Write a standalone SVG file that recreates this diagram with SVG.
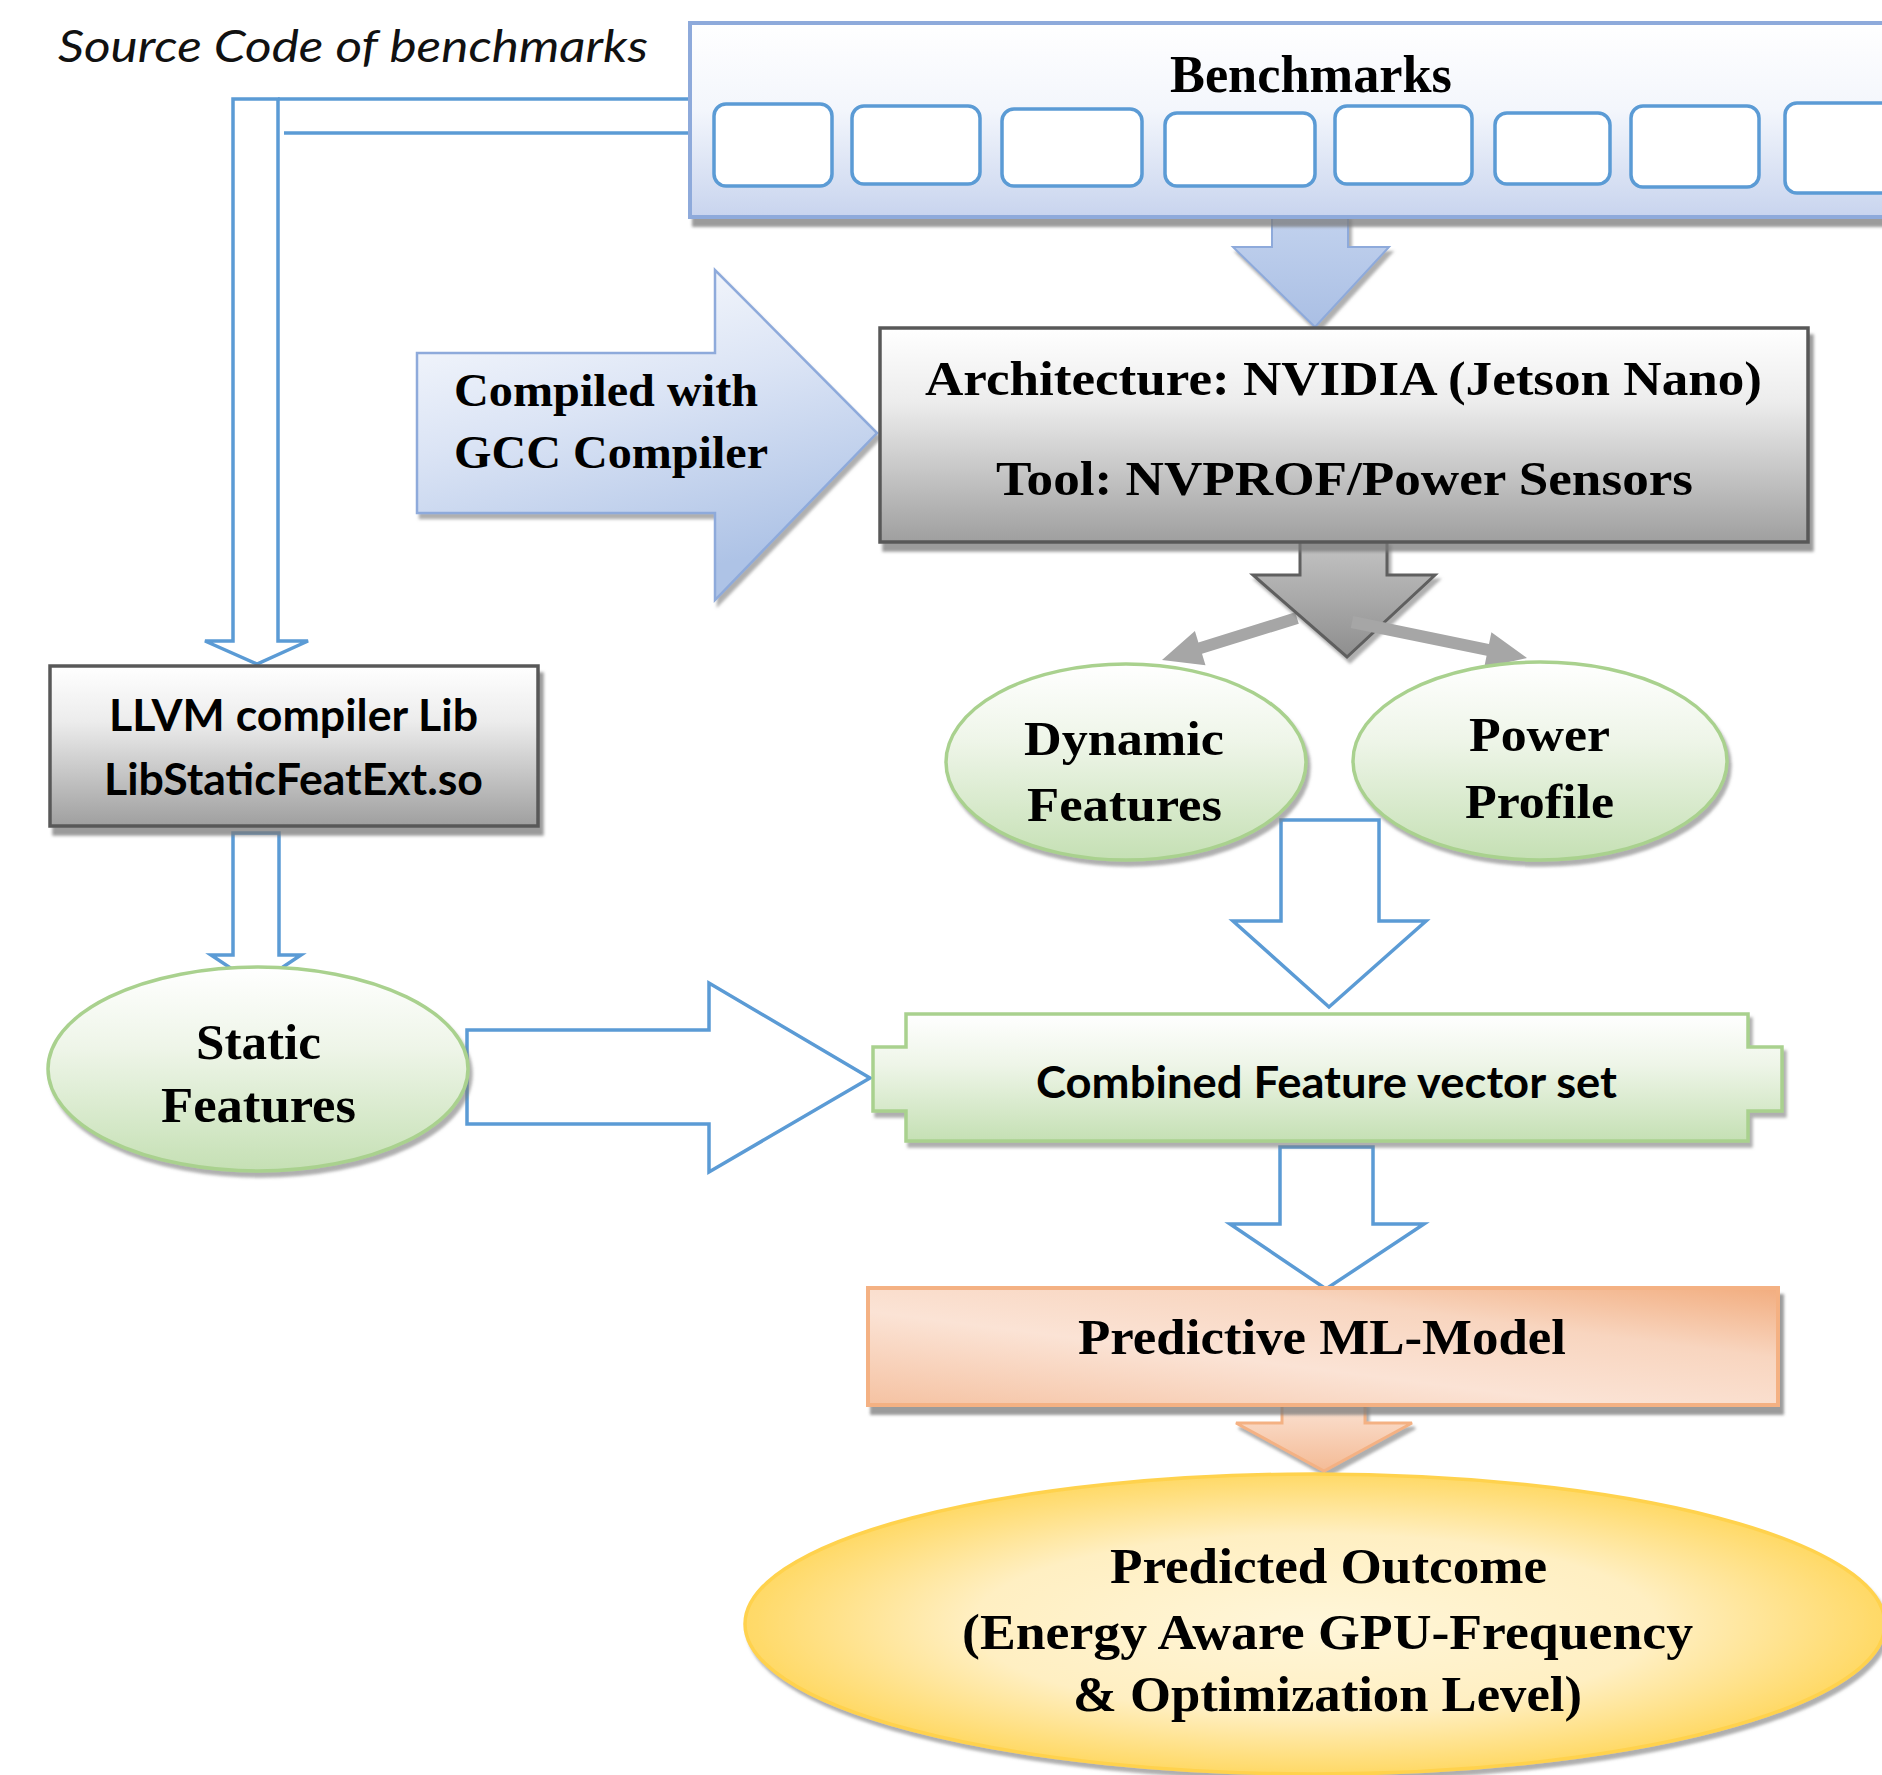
<svg xmlns="http://www.w3.org/2000/svg" width="1882" height="1775" viewBox="0 0 1882 1775">
<style>
.serif{font-family:"Liberation Serif","Times New Roman",serif;font-weight:bold;fill:#000}
.sans{font-family:Lato,"Open Sans","Liberation Sans",sans-serif;font-weight:bold;fill:#000}
.outline{fill:#fff;stroke:#5b9bd5;stroke-width:3.5;stroke-linejoin:miter}
.line{fill:none;stroke:#5b9bd5;stroke-width:3.5}
.bbox{fill:#fff;stroke:#5b9bd5;stroke-width:3.5}
.gbox{fill:url(#gGray);stroke:#595959;stroke-width:3.5}
.green{fill:url(#gGreen);stroke:#a9d18e;stroke-width:3.5}
</style>
<defs>
<linearGradient id="gBlue" x1="0" y1="0" x2="0" y2="1">
<stop offset="0" stop-color="#ffffff"/><stop offset="0.45" stop-color="#f3f6fc"/><stop offset="1" stop-color="#c8d4ee"/>
</linearGradient>
<linearGradient id="gBlueArrow" x1="0" y1="0" x2="0.35" y2="1">
<stop offset="0" stop-color="#ffffff"/><stop offset="0.5" stop-color="#dbe4f5"/><stop offset="1" stop-color="#aec3e6"/>
</linearGradient>
<linearGradient id="gBlueDown" x1="0" y1="0" x2="0" y2="1">
<stop offset="0" stop-color="#c2d2ee"/><stop offset="1" stop-color="#aabfe4"/>
</linearGradient>
<linearGradient id="gGray" x1="0" y1="0" x2="0" y2="1">
<stop offset="0" stop-color="#ffffff"/><stop offset="0.35" stop-color="#ececec"/><stop offset="1" stop-color="#9f9f9f"/>
</linearGradient>
<linearGradient id="gGrayArrow" x1="0" y1="0" x2="0" y2="1">
<stop offset="0" stop-color="#c4c4c4"/><stop offset="1" stop-color="#8e8e8e"/>
</linearGradient>
<linearGradient id="gGreen" x1="0" y1="0" x2="0" y2="1">
<stop offset="0" stop-color="#ffffff"/><stop offset="0.4" stop-color="#eef5e8"/><stop offset="1" stop-color="#c5e0b4"/>
</linearGradient>
<linearGradient id="gOrange" x1="1" y1="0" x2="0" y2="1">
<stop offset="0" stop-color="#f2ad7f"/><stop offset="0.3" stop-color="#f8d5bf"/><stop offset="0.6" stop-color="#fbe3d5"/><stop offset="1" stop-color="#f5c2a2"/>
</linearGradient>
<linearGradient id="gOrangeArrow" x1="0" y1="0" x2="0" y2="1">
<stop offset="0" stop-color="#fbe2d3"/><stop offset="1" stop-color="#f4bb96"/>
</linearGradient>
<radialGradient id="gYellow" cx="0.5" cy="0.5" r="0.5">
<stop offset="0" stop-color="#fff6d9"/><stop offset="0.6" stop-color="#ffefc2"/><stop offset="1" stop-color="#ffd966"/>
</radialGradient>
<filter id="sh" x="-10%" y="-10%" width="130%" height="130%">
<feDropShadow dx="4" dy="8" stdDeviation="1.5" flood-color="#7a7a7a" flood-opacity="0.75"/>
</filter>
<filter id="shs" x="-10%" y="-10%" width="130%" height="130%">
<feDropShadow dx="3" dy="5" stdDeviation="1.5" flood-color="#7a7a7a" flood-opacity="0.6"/>
</filter>
</defs>

<g id="source-label">
<text x="58" y="62" font-family="Lato,'Open Sans','Liberation Sans',sans-serif" font-style="italic" font-size="44" fill="#111" textLength="590" lengthAdjust="spacingAndGlyphs">Source Code of benchmarks</text>
</g>

<g id="connectors">
<!-- source code bent arrow to LLVM -->
<path class="outline" d="M233,99 H278 V641 H308 L257,664 L205,641 H233 Z"/>
<line class="line" x1="278" y1="99" x2="692" y2="99"/>
<line class="line" x1="284" y1="133" x2="692" y2="133"/>
<!-- benchmarks down arrow -->
<path d="M1272,215 H1348 V247 H1389 L1315,327 L1233,247 H1272 Z" fill="url(#gBlueDown)" stroke="#8eaadb" stroke-width="2" filter="url(#shs)"/>
<!-- compiled with GCC arrow -->
<path d="M417,353 H715 V270 L877,433 L715,600 V513 H417 Z" fill="url(#gBlueArrow)" stroke="#8eaadb" stroke-width="2.5" filter="url(#shs)"/>
<!-- gray split arrows -->
<polygon points="1295.2,612.3 1198.4,642.4 1194.9,630.9 1162,660 1205.5,665.3 1202.0,653.8 1298.8,623.7" fill="#a6a6a6"/>
<path d="M1300,541 H1387 V575 H1435 L1347,657 L1253,575 H1300 Z" fill="url(#gGrayArrow)" stroke="#5f5f5f" stroke-width="3" filter="url(#shs)"/>
<polygon points="1353.2,616.1 1489.0,644.0 1491.4,632.3 1527,658 1484.2,667.5 1486.6,655.8 1350.8,627.9" fill="#a6a6a6"/>
<!-- LLVM to static -->
<path class="outline" d="M233,833 H279 V955 H301 L256,985 L211,955 H233 Z"/>
<!-- static to combined -->
<path class="outline" d="M467,1030 H709 V983 L870,1078 L709,1172 V1124 H467 Z"/>
<!-- dynamic/power to combined -->
<path class="outline" d="M1281,820 H1379 V921 H1426 L1329,1007 L1233,921 H1281 Z"/>
<!-- combined to predictive -->
<path class="outline" d="M1280,1147 H1373 V1224 H1424 L1326,1289 L1230,1224 H1280 Z"/>
<!-- predictive to outcome -->
<path d="M1282,1403 H1365 V1423 H1412 L1324,1471 L1236,1423 H1282 Z" fill="url(#gOrangeArrow)" stroke="#f4b183" stroke-width="3" filter="url(#shs)"/>
</g>

<g id="benchmarks">
<rect x="690" y="23" width="1260" height="194" fill="url(#gBlue)" stroke="#8eaadb" stroke-width="4" filter="url(#sh)"/>
<text class="serif" x="1311" y="92" font-size="52" text-anchor="middle" textLength="282" lengthAdjust="spacingAndGlyphs">Benchmarks</text>
<rect class="bbox" x="714" y="104" width="118" height="82" rx="12"/>
<rect class="bbox" x="852" y="106" width="128" height="78" rx="12"/>
<rect class="bbox" x="1002" y="109" width="140" height="77" rx="12"/>
<rect class="bbox" x="1165" y="113" width="150" height="73" rx="12"/>
<rect class="bbox" x="1335" y="106" width="137" height="78" rx="12"/>
<rect class="bbox" x="1495" y="113" width="115" height="71" rx="12"/>
<rect class="bbox" x="1631" y="106" width="128" height="81" rx="12"/>
<rect class="bbox" x="1785" y="103" width="160" height="90" rx="12"/>
</g>

<g id="compiled-label">
<text class="serif" x="454" y="406" font-size="46" textLength="304" lengthAdjust="spacingAndGlyphs">Compiled with</text>
<text class="serif" x="454" y="468" font-size="46" textLength="314" lengthAdjust="spacingAndGlyphs">GCC Compiler</text>
</g>

<g id="architecture">
<rect class="gbox" x="880" y="328" width="928" height="214" filter="url(#sh)"/>
<text class="serif" x="925" y="395" font-size="48" textLength="837" lengthAdjust="spacingAndGlyphs">Architecture: NVIDIA (Jetson Nano)</text>
<text class="serif" x="996" y="495" font-size="48" textLength="697" lengthAdjust="spacingAndGlyphs">Tool: NVPROF/Power Sensors</text>
</g>

<g id="llvm">
<rect class="gbox" x="50" y="666" width="488" height="160" filter="url(#sh)"/>
<text class="sans" x="109" y="731" font-size="44" textLength="369" lengthAdjust="spacingAndGlyphs">LLVM compiler Lib</text>
<text class="sans" x="104" y="795" font-size="44" textLength="379" lengthAdjust="spacingAndGlyphs">LibStaticFeatExt.so</text>
</g>

<g id="dynamic-features">
<ellipse class="green" cx="1126" cy="762" rx="180" ry="98" filter="url(#shs)"/>
<text class="serif" x="1024" y="755" font-size="49" textLength="200" lengthAdjust="spacingAndGlyphs">Dynamic</text>
<text class="serif" x="1027" y="821" font-size="49" textLength="195" lengthAdjust="spacingAndGlyphs">Features</text>
</g>

<g id="power-profile">
<ellipse class="green" cx="1540" cy="761" rx="187" ry="99" filter="url(#shs)"/>
<text class="serif" x="1469" y="751" font-size="49" textLength="141" lengthAdjust="spacingAndGlyphs">Power</text>
<text class="serif" x="1465" y="818" font-size="49" textLength="149" lengthAdjust="spacingAndGlyphs">Profile</text>
</g>

<g id="static-features">
<ellipse class="green" cx="258" cy="1069" rx="210" ry="102" filter="url(#shs)"/>
<text class="serif" x="196" y="1059" font-size="50" textLength="125" lengthAdjust="spacingAndGlyphs">Static</text>
<text class="serif" x="161" y="1122" font-size="50" textLength="195" lengthAdjust="spacingAndGlyphs">Features</text>
</g>

<g id="combined">
<path class="green" d="M906,1014 H1748 V1047 H1782 V1111 H1748 V1141 H906 V1111 H873 V1047 H906 Z" filter="url(#shs)"/>
<text class="sans" x="1036" y="1098" font-size="44" textLength="581" lengthAdjust="spacingAndGlyphs">Combined Feature vector set</text>
</g>

<g id="predictive">
<rect x="868" y="1288" width="910" height="117" fill="url(#gOrange)" stroke="#f4b183" stroke-width="4" filter="url(#sh)"/>
<text class="serif" x="1078" y="1354" font-size="51" textLength="488" lengthAdjust="spacingAndGlyphs">Predictive ML-Model</text>
</g>

<g id="outcome">
<ellipse cx="1315" cy="1624" rx="570" ry="150" fill="url(#gYellow)" stroke="#ffd24d" stroke-width="3.5" filter="url(#shs)"/>
<text class="serif" x="1110" y="1583" font-size="50" textLength="437" lengthAdjust="spacingAndGlyphs">Predicted Outcome</text>
<text class="serif" x="962" y="1649" font-size="50" textLength="731" lengthAdjust="spacingAndGlyphs">(Energy Aware GPU-Frequency</text>
<text class="serif" x="1073" y="1711" font-size="50" textLength="509" lengthAdjust="spacingAndGlyphs">&amp; Optimization Level)</text>
</g>
</svg>
